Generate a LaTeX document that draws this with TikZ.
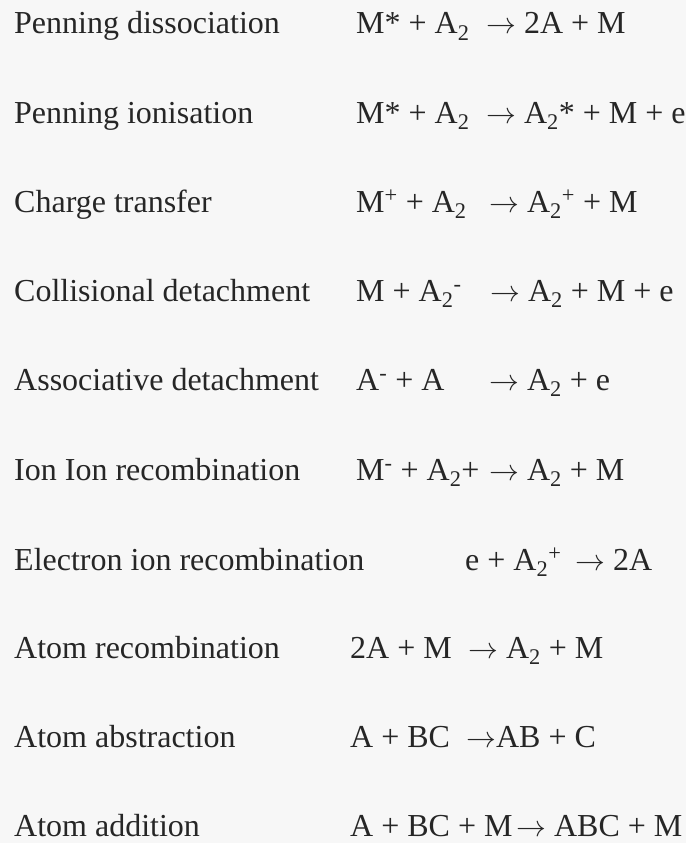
\documentclass[tikz,border=0pt]{standalone}
\usepackage{graphicx}
\usepackage{fontspec}
\setmainfont{Liberation Serif}
\newcommand{\subsc}[1]{\textsubscript{#1}}
\newcommand{\supsc}[1]{\textsuperscript{#1}}
\newcommand{\yields}{\scalebox{1.2}{$\rightarrow$}}
\begin{document}
\begin{tikzpicture}[x=1pt, y=-1pt, every node/.style={inner sep=0pt, anchor=base west, text=black!85, font=\fontsize{32}{38}\selectfont}]
				% background
				\fill[black!3] (0,0) rectangle (686,843);
				\useasboundingbox (0,0) rectangle (686,843);
				
				% process names
				\node (pdis) at (14, 34) {Penning dissociation};
				\node (pion) at (14, 123) {Penning ionisation};
				\node (ctr)  at (14, 212) {Charge transfer};
				\node (cdet) at (14, 301) {Collisional detachment};
				\node (adet) at (14, 390) {Associative detachment};
				\node (iion) at (14, 480) {Ion Ion recombination};
				\node (eion) at (14, 570) {Electron ion recombination};
				\node (arec) at (14, 658) {Atom recombination};
				\node (aabs) at (14, 747) {Atom abstraction};
				\node (aadd) at (14, 836) {Atom addition};
				
				% reactants
				\node (pdisL) at (356, 34) {M* + A\subsc{2}};
				\node (pionL) at (356, 123) {M* + A\subsc{2}};
				\node (ctrL)  at (356, 212) {M\supsc{+} + A\subsc{2}};
				\node (cdetL) at (356, 301) {M + A\subsc{2}\supsc{-}};
				\node (adetL) at (356, 390) {A\supsc{-} + A};
				\node (iionL) at (356, 480) {M\supsc{-} + A\subsc{2}+};
				\node (eionL) at (465, 570) {e + A\subsc{2}\supsc{+}};
				\node (arecL) at (350, 658) {2A + M};
				\node (aabsL) at (350, 747) {A + BC};
				\node (aaddL) at (350, 836) {A + BC + M};
				
				% products
				\node (pdisR) at (486, 34) {\yields{} 2A + M};
				\node (pionR) at (486, 123) {\yields{} A\subsc{2}* + M + e};
				\node (ctrR)  at (489, 212) {\yields{} A\subsc{2}\supsc{+} + M};
				\node (cdetR) at (490, 301) {\yields{} A\subsc{2} + M + e};
				\node (adetR) at (489, 390) {\yields{} A\subsc{2} + e};
				\node (iionR) at (489, 480) {\yields{} A\subsc{2} + M};
				\node (eionR) at (575, 570) {\yields{} 2A};
				\node (arecR) at (468, 658) {\yields{} A\subsc{2} + M};
				\node (aabsR) at (466, 747) {\yields{}AB + C};
				\node (aaddR) at (516, 836) {\yields{} ABC + M};
			\end{tikzpicture}
\end{document}
